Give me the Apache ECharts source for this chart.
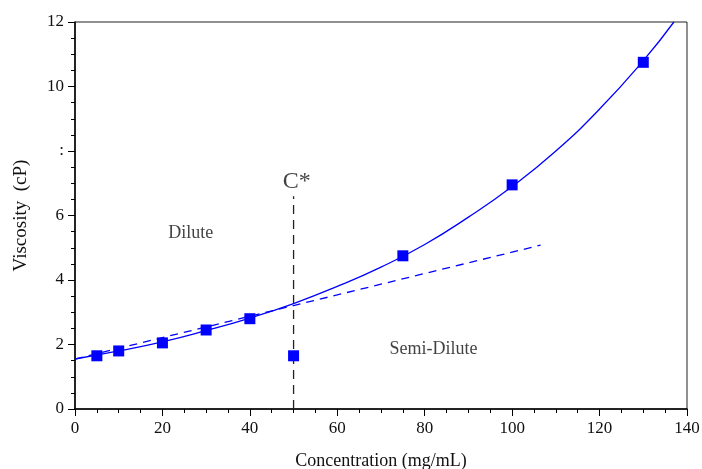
<!DOCTYPE html>
<html>
<head>
<meta charset="utf-8">
<script src="https://cdn.jsdelivr.net/npm/echarts@6/dist/echarts.min.js"></script>
<style>
html, body { margin: 0; padding: 0; background: #fff; }
#main { width: 702px; height: 469px; }
</style>
</head>
<body>
<div id="main"></div>
<script>
// measured points
var concX = [5, 10, 20, 30, 40, 50, 75, 100, 130];
var viscY = [1.65, 1.8, 2.05, 2.45, 2.8, 1.65, 4.75, 6.95, 10.75];
// fitted curve
var fitX = [0, 10, 20, 30, 40, 50, 60, 70, 80, 90, 100, 110, 120, 130, 137];
var fitY = [1.55, 1.8, 2.08, 2.43, 2.82, 3.27, 3.8, 4.4, 5.1, 5.95, 6.9, 8.0, 9.3, 10.8, 12.0];
// dilute line
var lineX = [0, 106.5];
var lineY = [1.55, 5.08];
// C* marker
var cStarX = 50;
var cStarTop = 6.6;
var yTickLabels = {0: '0', 2: '2', 4: '4', 6: '6', 8: ':', 10: '10', 12: '12'};

function pairs(xs, ys) {
    return xs.map(function (x, i) { return [x, ys[i]]; });
}

var blue = '#0000ff';
var font = '"Liberation Serif", "DejaVu Serif", serif';

var myChart = echarts.init(document.getElementById('main'));
var option = {
    animation: false,
    grid: {
        left: 75, right: 15, top: 22, bottom: 60,
        outerBoundsMode: 'none',
        show: true, borderColor: '#222', borderWidth: 1
    },
    xAxis: {
        type: 'value',
        min: 0, max: 140, interval: 20,
        name: 'Concentration (mg/mL)',
        nameLocation: 'middle',
        nameGap: 43,
        nameTextStyle: { color: '#111', fontFamily: font, fontSize: 18 },
        axisLine: { lineStyle: { color: '#000', width: 1.5 } },
        axisTick: { show: true, inside: false, length: 7, lineStyle: { color: '#000' } },
        minorTick: { show: true, splitNumber: 4, length: 4, lineStyle: { color: '#000' } },
        axisLabel: { color: '#111', fontFamily: font, fontSize: 17, margin: 11 },
        splitLine: { show: false }
    },
    yAxis: {
        type: 'value',
        min: 0, max: 12, interval: 2,
        name: 'Viscosity  (cP)',
        nameLocation: 'middle',
        nameGap: 44,
        nameTextStyle: { color: '#111', fontFamily: font, fontSize: 19 },
        axisLine: { lineStyle: { color: '#000', width: 1.5 } },
        axisTick: { show: true, inside: false, length: 7, lineStyle: { color: '#000' } },
        minorTick: { show: true, splitNumber: 4, length: 4, lineStyle: { color: '#000' } },
        axisLabel: {
            color: '#111', fontFamily: font, fontSize: 17, margin: 11,
            formatter: function (v) { return yTickLabels[v]; }
        },
        splitLine: { show: false }
    },
    series: [
        {
            name: 'fit',
            type: 'line',
            data: pairs(fitX, fitY),
            smooth: true,
            showSymbol: false,
            lineStyle: { color: blue, width: 1.3 },
            z: 2
        },
        {
            name: 'dilute',
            type: 'line',
            data: pairs(lineX, lineY),
            showSymbol: false,
            lineStyle: { color: blue, width: 1.3, type: [8, 6] },
            z: 2
        },
        {
            name: 'cstar',
            type: 'line',
            data: [[cStarX, 0], [cStarX, cStarTop]],
            showSymbol: false,
            lineStyle: { color: '#222', width: 1.3, type: [9, 6] },
            z: 1
        },
        {
            name: 'data',
            type: 'scatter',
            data: pairs(concX, viscY),
            symbol: 'rect',
            symbolSize: 11,
            itemStyle: { color: blue, opacity: 1 },
            z: 3
        },
        {
            name: 'labels',
            type: 'scatter',
            symbolSize: 0,
            silent: true,
            data: [
                { value: [cStarX + 0.7, 7.05], label: { formatter: 'C*', fontSize: 24 } },
                { value: [26.5, 5.45], label: { formatter: 'Dilute', fontSize: 18 } },
                { value: [82, 1.85], label: { formatter: 'Semi-Dilute', fontSize: 18 } }
            ],
            label: {
                show: true, position: 'inside',
                color: '#111', fontFamily: font
            }
        }
    ]
};
myChart.setOption(option);
</script>
</body>
</html>
